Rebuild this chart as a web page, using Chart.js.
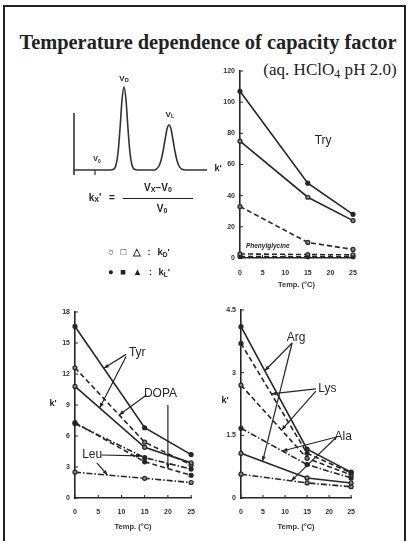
<!DOCTYPE html>
<html>
<head>
<meta charset="utf-8">
<script src="https://cdn.jsdelivr.net/npm/chart.js@4.4.1/dist/chart.umd.min.js"></script>
<style>
  html, body { margin: 0; padding: 0; background: #fff; }
  #page { position: relative; width: 407px; height: 541px; overflow: hidden; font-family: "Liberation Sans", Arial, sans-serif; color: #222; }
  #frame { position: absolute; left: 3px; top: 5px; width: 399px; height: 545px; border: 2px solid #222; }
  canvas { position: absolute; }
  .t { position: absolute; white-space: nowrap; line-height: 1; transform: translate(-50%, -50%); }
  .t sub { font-size: 70%; vertical-align: -0.25em; }
  #title { font-family: "Liberation Serif", serif; font-weight: bold; font-size: 19px; }
  #sub { font-family: "Liberation Serif", serif; font-size: 13px; }
  .f { font-size: 10px; font-weight: bold; }
  .k { font-size: 9px; font-weight: bold; }
  .lg { font-size: 9.5px; font-weight: bold; word-spacing: 4px; }
  #bar { position: absolute; left: 123px; top: 198px; width: 70px; height: 1px; background: #222; }
</style>
</head>
<body>
<div id="page">
  <div id="frame"></div>
  <div class="t" id="title" style="left:208px;top:42px">Temperature dependence of capacity factor</div>
  <div class="t" id="sub" style="left:330px;top:71px">(aq. HClO<sub>4</sub> pH 2.0)</div>

  <canvas id="chrom" width="160" height="120" style="left:60px;top:70px"></canvas>
  <div class="t k" style="left:124px;top:79px;font-size:8px">V<sub>D</sub></div>
  <div class="t k" style="left:170px;top:115px;font-size:8px">V<sub>L</sub></div>
  <div class="t k" style="left:97px;top:160px;font-size:7px">V<sub>0</sub></div>

  <div class="t f" style="left:95px;top:198px">k<sub>X</sub>'</div>
  <div class="t f" style="left:112px;top:198px">=</div>
  <div class="t f" style="left:158px;top:188px">V<sub>X</sub>&minus;V<sub>0</sub></div>
  <div id="bar"></div>
  <div class="t f" style="left:162px;top:209px">V<sub>0</sub></div>
  <div class="t lg" style="left:139px;top:253px">&#9675; &#9633; &#9651; : k<sub>D</sub>'</div>
  <div class="t lg" style="left:139px;top:273px">&#9679; &#9632; &#9650; : k<sub>L</sub>'</div>

  <canvas id="cTry" width="170" height="229" style="left:200px;top:60px"></canvas>
  <canvas id="cTyr" width="170" height="231" style="left:35px;top:300px"></canvas>
  <canvas id="cArg" width="164" height="231" style="left:201px;top:300px"></canvas>
  <div class="t k" style="left:218px;top:168px">k'</div>
  <div class="t k" style="left:53px;top:403px">k'</div>
  <div class="t k" style="left:225px;top:400px">k'</div>
</div>

<script>
// temperatures (deg C)
const temps = [0, 15, 25];

// Try / Phenylglycine panel
const tryA = [107, 48, 28];
const tryB = [75, 39, 24];
const dashC = [33, 10, 5.5];
const phgA = [2.6, 2.2, 2.0];
const phgB = [0.9, 0.8, 0.8];

// Tyr / DOPA / Leu panel
const tyrA = [16.6, 6.8, 4.2];
const tyrB = [10.8, 4.9, 3.4];
const dopaA = [12.6, 5.4, 3.2];
const dopaB = [7.3, 3.5, 2.2];
const leuA = [7.2, 3.9, 2.8];
const leuB = [2.5, 1.9, 1.5];

// Arg / Lys / Ala panel
const argA = [4.1, 1.17, 0.62];
const argB = [1.07, 0.48, 0.36];
const lysA = [3.7, 1.07, 0.6];
const lysB = [2.7, 0.95, 0.55];
const alaA = [1.67, 0.8, 0.48];
const alaB = [0.57, 0.36, 0.27];

// chromatogram sketch
const chromX = [0, 30, 36, 40, 42, 44, 46, 48, 50, 52, 54, 56, 58, 60, 64, 70, 80, 82, 85, 87, 89, 91, 93, 95, 97, 99, 101, 103, 105, 108, 112, 133];
const chromY = [0, 0, 0, 1, 5, 17, 41, 70, 83, 70, 41, 17, 5, 1, 0, 0, 0, 0.7, 4, 9.5, 18.5, 30, 41, 45, 41, 30, 18.5, 9.5, 4, 0.7, 0, 0];

const INK = '#262626';
const DASH = [5, 3];
const DOT = [6, 2, 1.5, 2];

// fit heading widths
function fit(id, w) {
  const el = document.getElementById(id);
  const fs = parseFloat(getComputedStyle(el).fontSize);
  el.style.fontSize = (fs * w / el.offsetWidth) + 'px';
}
fit('title', 377);
fit('sub', 134);

function ser(vals, dash, filled) {
  return {
    data: temps.map((t, i) => ({ x: t, y: vals[i] })),
    borderColor: INK, borderWidth: 1.6, borderDash: dash,
    pointRadius: 2, pointBorderWidth: 1.2,
    pointBackgroundColor: filled ? INK : '#888', pointBorderColor: INK,
    tension: 0, clip: false
  };
}

function interp(vals, x) {
  for (let i = 0; i < temps.length - 1; i++) {
    if (x <= temps[i + 1]) {
      const f = (x - temps[i]) / (temps[i + 1] - temps[i]);
      return vals[i] + f * (vals[i + 1] - vals[i]);
    }
  }
  return vals[vals.length - 1];
}

const notes = {
  id: 'notes',
  afterDatasetsDraw(chart, args, opts) {
    const { ctx } = chart;
    const x = chart.scales.x, y = chart.scales.y;
    ctx.save();
    ctx.strokeStyle = INK; ctx.fillStyle = INK; ctx.lineWidth = 1;
    // inward tick marks
    ctx.beginPath();
    y.ticks.forEach(t => { const p = y.getPixelForValue(t.value); ctx.moveTo(x.left, p); ctx.lineTo(x.left + 3, p); });
    x.ticks.forEach(t => { const p = x.getPixelForValue(t.value); ctx.moveTo(p, y.bottom); ctx.lineTo(p, y.bottom - 3); });
    ctx.stroke();
    // pointer lines
    (opts.arrows || []).forEach(a => {
      const x0 = x.getPixelForValue(a.from[0]), y0 = y.getPixelForValue(a.from[1]);
      const x1 = x.getPixelForValue(a.toX), y1 = y.getPixelForValue(interp(a.on, a.toX));
      ctx.lineWidth = 1.2;
      ctx.beginPath(); ctx.moveTo(x0, y0); ctx.lineTo(x1, y1); ctx.stroke();
      const ang = Math.atan2(y1 - y0, x1 - x0);
      ctx.beginPath();
      ctx.moveTo(x1, y1);
      ctx.lineTo(x1 - 5 * Math.cos(ang) + 2 * Math.sin(ang), y1 - 5 * Math.sin(ang) - 2 * Math.cos(ang));
      ctx.lineTo(x1 - 5 * Math.cos(ang) - 2 * Math.sin(ang), y1 - 5 * Math.sin(ang) + 2 * Math.cos(ang));
      ctx.closePath(); ctx.fill();
    });
    // text labels
    (opts.labels || []).forEach(l => {
      ctx.font = l.font || '12px "Liberation Sans", Arial, sans-serif';
      ctx.textAlign = l.align || 'center';
      ctx.textBaseline = 'middle';
      ctx.fillText(l.text, x.getPixelForValue(l.at[0]), y.getPixelForValue(l.at[1]));
    });
    ctx.restore();
  }
};

const tickFont = { family: '"Liberation Sans", Arial, sans-serif', size: 7, weight: 'bold' };

function panel(id, sets, yMax, yStep, tickPad, xH, titlePadBot, pad, arrows, labels) {
  return new Chart(document.getElementById(id), {
    type: 'line',
    data: { datasets: sets },
    options: {
      responsive: false, animation: false,
      layout: { padding: pad },
      plugins: { legend: { display: false }, tooltip: { enabled: false }, notes: { arrows, labels } },
      scales: {
        x: {
          type: 'linear', min: 0, max: 25,
          ticks: { stepSize: 5, color: '#333', font: tickFont, padding: tickPad, maxRotation: 0 },
          grid: { display: false, drawTicks: false },
          border: { color: INK, width: 1.6 },
          title: { display: true, text: 'Temp. (\u00B0C)', color: '#333', font: { family: '"Liberation Sans", Arial, sans-serif', size: 7.5, weight: 'bold' }, padding: { top: 0, bottom: titlePadBot } },
          afterFit(s) { s.height = xH; }
        },
        y: {
          min: 0, max: yMax,
          ticks: { stepSize: yStep, color: '#333', font: tickFont, padding: 5 },
          grid: { display: false, drawTicks: false },
          border: { color: INK, width: 1.6 },
          afterFit(s) { s.width = 40; }
        }
      }
    },
    plugins: [notes]
  });
}

panel('cTry', [
  ser(tryA, [], true), ser(tryB, [], false), ser(dashC, DASH, false),
  ser(phgA, DASH, false), ser(phgB, DASH, true)
], 120, 20, 11, 31, 0, { top: 11, right: 17, left: 0, bottom: 0 }, [], [
  { text: 'Try', at: [18.4, 75] },
  { text: 'Phenylglycine', at: [1.3, 7.7], align: 'left', font: 'italic bold 6.5px "Liberation Sans", Arial, sans-serif' }
]);

panel('cTyr', [
  ser(tyrA, [], true), ser(tyrB, [], false), ser(dopaA, DASH, false),
  ser(dopaB, DASH, true), ser(leuA, DOT, true), ser(leuB, DOT, false)
], 18, 3, 10, 33, 0, { top: 12, right: 12, left: 0, bottom: 0 }, [
  { from: [11.0, 13.9], toX: 6.2, on: tyrA },
  { from: [11.0, 13.7], toX: 5.3, on: tyrB },
  { from: [15.4, 9.97], toX: 9.5, on: dopaA },
  { from: [20, 9.0], toX: 20, on: dopaB },
  { from: [5.7, 4.16], toX: 14.2, on: leuA },
  { from: [4.7, 3.4], toX: 7, on: leuB }
], [
  { text: 'Tyr', at: [13.4, 14.1] },
  { text: 'DOPA', at: [18.4, 10.1] },
  { text: 'Leu', at: [3.7, 4.2] }
]);

panel('cArg', [
  ser(argA, [], true), ser(argB, [], false), ser(lysA, DASH, true),
  ser(lysB, DASH, false), ser(alaA, DOT, true), ser(alaB, DOT, false)
], 4.5, 1.5, 10, 33, 0, { top: 10, right: 12, left: 0, bottom: 0 }, [
  { from: [11.6, 3.71], toX: 5.4, on: argA },
  { from: [11.6, 3.71], toX: 4.9, on: argB },
  { from: [17.0, 2.61], toX: 6.9, on: lysA },
  { from: [17.0, 2.56], toX: 9.2, on: lysB },
  { from: [21.7, 1.46], toX: 9.4, on: alaA },
  { from: [21.7, 1.46], toX: 11.4, on: alaB }
], [
  { text: 'Arg', at: [12.5, 3.83] },
  { text: 'Lys', at: [19.6, 2.61] },
  { text: 'Ala', at: [23.2, 1.46] }
]);

// chromatogram sketch
new Chart(document.getElementById('chrom'), {
  type: 'scatter',
  data: {
    datasets: [
      { data: chromX.map((v, i) => ({ x: v, y: chromY[i] })), showLine: true, cubicInterpolationMode: 'monotone', borderColor: '#333', borderWidth: 1.6, pointRadius: 0, clip: false },
      { data: [{ x: 0, y: -5 }, { x: 0, y: 57 }], showLine: true, borderColor: '#333', borderWidth: 1.6, pointRadius: 0, clip: false },
      { data: [{ x: 21, y: 0 }, { x: 21, y: -5 }], showLine: true, borderColor: '#333', borderWidth: 1.2, pointRadius: 0, clip: false }
    ]
  },
  options: {
    responsive: false, animation: false,
    layout: { padding: { left: 14, right: 13, top: 17, bottom: 14 } },
    plugins: { legend: { display: false }, tooltip: { enabled: false } },
    scales: {
      x: { display: false, min: 0, max: 133 },
      y: { display: false, min: -6, max: 83 }
    }
  }
});
</script>
</body>
</html>
